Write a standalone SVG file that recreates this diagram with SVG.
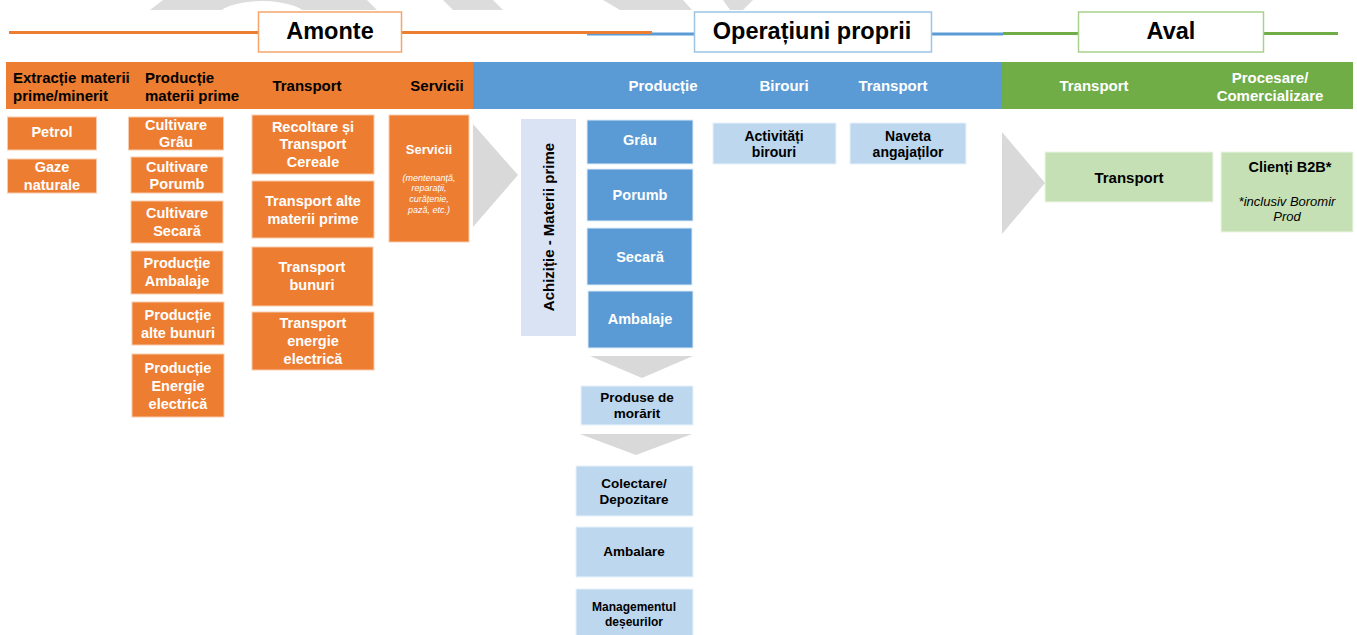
<svg xmlns="http://www.w3.org/2000/svg" width="1357" height="635" viewBox="0 0 1357 635">
<style>
text{font-family:"Liberation Sans",Arial,sans-serif;font-weight:bold;}
.t{text-anchor:middle;}
.w{fill:#FFFFFF;}
.k{fill:#000000;}
.ob{fill:#ED7D31;stroke:#F8CBAD;stroke-width:1;}
.bb{fill:#5B9BD5;stroke:#DEEBF7;stroke-width:1;}
.lb{fill:#BDD7EE;stroke:#EAF2FA;stroke-width:1;}
.lg{fill:#C5E0B4;stroke:#EEF6E8;stroke-width:1;}
.chev{fill:#D9D9D9;}
.wm{fill:#DCDCDC;}
.f15{font-size:15px;}
.f14{font-size:14.5px;}
.f13{font-size:13.5px;}
.hdr{font-size:23.5px;fill:#000;text-anchor:middle;}
</style>

<g id="watermark">
  <polygon class="wm" points="163,0 367,0 377,10 150,10"/>
  <ellipse cx="262" cy="16" rx="44" ry="15" fill="#FFFFFF"/>
  <polygon class="wm" points="443,0 493,0 503,10 453,10"/>
  <polygon class="wm" points="603,0 683,0 692,10 620,10"/>
  <polygon class="wm" points="723,0 753,0 743,10 730,10"/>
</g>

<g id="header-lines">
  <line x1="587" y1="34" x2="1003" y2="34" stroke="#5B9BD5" stroke-width="3"/>
  <line x1="9" y1="32.5" x2="652" y2="32.5" stroke="#ED7D31" stroke-width="3"/>
  <line x1="1003" y1="33.5" x2="1338" y2="33.5" stroke="#70AD47" stroke-width="3"/>
</g>

<g id="hdr-amonte">
  <rect x="258.5" y="12" width="143" height="40" fill="#FFFFFF" stroke="#F4A56B" stroke-width="1.5"/>
  <text class="hdr" x="330" y="39">Amonte</text>
</g>
<g id="hdr-operatiuni">
  <rect x="694.5" y="12" width="237" height="40" fill="#FFFFFF" stroke="#9DC3E6" stroke-width="1.5"/>
  <text class="hdr" x="812" y="39">Operațiuni proprii</text>
</g>
<g id="hdr-aval">
  <rect x="1078.5" y="12" width="185" height="40" fill="#FFFFFF" stroke="#A9D18E" stroke-width="1.5"/>
  <text class="hdr" x="1171" y="39">Aval</text>
</g>

<g id="band-amonte">
  <rect x="6" y="62" width="467" height="47" fill="#ED7D31"/>
  <text class="k f15" x="13" y="83">Extracție materii</text>
  <text class="k f15" x="13" y="101">prime/minerit</text>
  <text class="k f15" x="145" y="83">Producție</text>
  <text class="k f15" x="145" y="101">materii prime</text>
  <text class="k f15 t" x="307" y="91">Transport</text>
  <text class="k f15 t" x="437" y="91">Servicii</text>
</g>
<g id="band-operatiuni">
  <rect x="473" y="62" width="530" height="47" fill="#5B9BD5"/>
  <text class="w f15 t" x="663" y="91">Producție</text>
  <text class="w f15 t" x="784" y="91">Birouri</text>
  <text class="w f15 t" x="893" y="91">Transport</text>
</g>
<g id="band-aval">
  <rect x="1002" y="62" width="351" height="47" fill="#70AD47"/>
  <text class="w f15 t" x="1094" y="91">Transport</text>
  <text class="w f15 t" x="1270" y="83">Procesare/</text>
  <text class="w f15 t" x="1270" y="101">Comercializare</text>
</g>

<g id="petrol"><rect class="ob" x="7.5" y="117" width="89" height="33"/><text class="w f14 t" x="52" y="137">Petrol</text></g>
<g id="gaze"><rect class="ob" x="7.5" y="159" width="89" height="34"/><text class="w f14 t" x="52" y="172">Gaze</text><text class="w f14 t" x="52" y="190">naturale</text></g>

<g id="cultivare-grau"><rect class="ob" x="128.5" y="117" width="95" height="33"/><text class="w f14 t" x="176" y="130">Cultivare</text><text class="w f14 t" x="176" y="147">Grâu</text></g>
<g id="cultivare-porumb"><rect class="ob" x="131" y="157" width="92" height="36"/><text class="w f14 t" x="177" y="172">Cultivare</text><text class="w f14 t" x="177" y="189">Porumb</text></g>
<g id="cultivare-secara"><rect class="ob" x="131" y="201" width="92" height="42"/><text class="w f14 t" x="177" y="218">Cultivare</text><text class="w f14 t" x="177" y="236">Secară</text></g>
<g id="productie-ambalaje"><rect class="ob" x="131" y="251" width="92" height="43"/><text class="w f14 t" x="177" y="268">Producție</text><text class="w f14 t" x="177" y="286">Ambalaje</text></g>
<g id="productie-alte"><rect class="ob" x="132" y="302" width="92" height="43"/><text class="w f14 t" x="178" y="320">Producție</text><text class="w f14 t" x="178" y="338">alte bunuri</text></g>
<g id="productie-energie"><rect class="ob" x="132" y="354" width="92" height="63"/><text class="w f14 t" x="178" y="373">Producție</text><text class="w f14 t" x="178" y="391">Energie</text><text class="w f14 t" x="178" y="409">electrică</text></g>

<g id="recoltare"><rect class="ob" x="252" y="115" width="122" height="59"/><text class="w f14 t" x="313" y="132">Recoltare și</text><text class="w f14 t" x="313" y="149">Transport</text><text class="w f14 t" x="313" y="167">Cereale</text></g>
<g id="transport-alte"><rect class="ob" x="252" y="181" width="122" height="57"/><text class="w f14 t" x="313" y="206">Transport alte</text><text class="w f14 t" x="313" y="224">materii prime</text></g>
<g id="transport-bunuri"><rect class="ob" x="252" y="247" width="121" height="59"/><text class="w f14 t" x="312" y="272">Transport</text><text class="w f14 t" x="312" y="290">bunuri</text></g>
<g id="transport-energie"><rect class="ob" x="252" y="312" width="122" height="58"/><text class="w f14 t" x="313" y="328">Transport</text><text class="w f14 t" x="313" y="346">energie</text><text class="w f14 t" x="313" y="364">electrică</text></g>

<g id="servicii"><rect class="ob" x="389" y="115" width="80" height="127"/>
  <text class="w t" x="429" y="154" font-size="13">Servicii</text>
  <g class="w" font-size="9" font-style="italic" font-weight="normal" text-anchor="middle">
    <text x="429" y="181" style="font-weight:normal">(mentenanță,</text>
    <text x="429" y="191" style="font-weight:normal">reparații,</text>
    <text x="429" y="202" style="font-weight:normal">curățenie,</text>
    <text x="429" y="213" style="font-weight:normal">pază, etc.)</text>
  </g>
</g>

<g id="achizitie"><rect x="521" y="119" width="55" height="217" fill="#DAE3F3"/>
  <text class="k f15 t" x="549" y="232" transform="rotate(-90 549 227)">Achiziție - Materii prime</text></g>

<g id="grau"><rect class="bb" x="587" y="120" width="106" height="44"/><text class="w f14 t" x="640" y="145">Grâu</text></g>
<g id="porumb"><rect class="bb" x="587" y="169" width="106" height="52"/><text class="w f14 t" x="640" y="200">Porumb</text></g>
<g id="secara"><rect class="bb" x="587" y="228" width="105" height="57"/><text class="w f14 t" x="640" y="262">Secară</text></g>
<g id="ambalaje"><rect class="bb" x="588" y="291" width="105" height="57"/><text class="w f14 t" x="640" y="324">Ambalaje</text></g>

<g id="produse-morarit"><rect class="lb" x="581" y="386" width="112" height="39"/><text class="k f13 t" x="637" y="402">Produse de</text><text class="k f13 t" x="637" y="418">morărit</text></g>
<g id="colectare"><rect class="lb" x="576" y="466" width="117" height="50"/><text class="k f13 t" x="634" y="488">Colectare/</text><text class="k f13 t" x="634" y="504">Depozitare</text></g>
<g id="ambalare"><rect class="lb" x="576" y="527" width="117" height="50"/><text class="k f13 t" x="634" y="556">Ambalare</text></g>
<g id="management"><rect class="lb" x="576" y="589" width="117" height="50"/><text class="k t" font-size="12" x="634" y="611">Managementul</text><text class="k t" font-size="12" x="634" y="626">deșeurilor</text></g>

<g id="activitati"><rect class="lb" x="713" y="123" width="123" height="41"/><text class="k f14 t" x="774" y="141" style="font-size:14px">Activități</text><text class="k f14 t" x="774" y="157" style="font-size:14px">birouri</text></g>
<g id="naveta"><rect class="lb" x="850" y="123" width="116" height="41"/><text class="k t" style="font-size:14px" x="908" y="141">Naveta</text><text class="k t" style="font-size:14px" x="908" y="157">angajaților</text></g>

<g id="aval-transport"><rect class="lg" x="1045" y="152" width="168" height="50"/><text class="k f15 t" x="1129" y="183">Transport</text></g>
<g id="clienti"><rect class="lg" x="1221" y="152" width="132" height="80"/>
  <text class="k t" x="1290" y="172" font-size="14.5">Clienți B2B*</text>
  <text class="k t" x="1287" y="206" font-size="13" font-style="italic" style="font-weight:normal">*inclusiv Boromir</text>
  <text class="k t" x="1287" y="221" font-size="13" font-style="italic" style="font-weight:normal">Prod</text>
</g>

<g id="connectors">
  <polygon class="chev" points="473,124 518,175 473,227"/>
  <polygon class="chev" points="590,356 693,356 642,378"/>
  <polygon class="chev" points="580,434 692,434 636,455"/>
  <polygon class="chev" points="1002,132 1045,183 1002,234"/>
</g>
</svg>
